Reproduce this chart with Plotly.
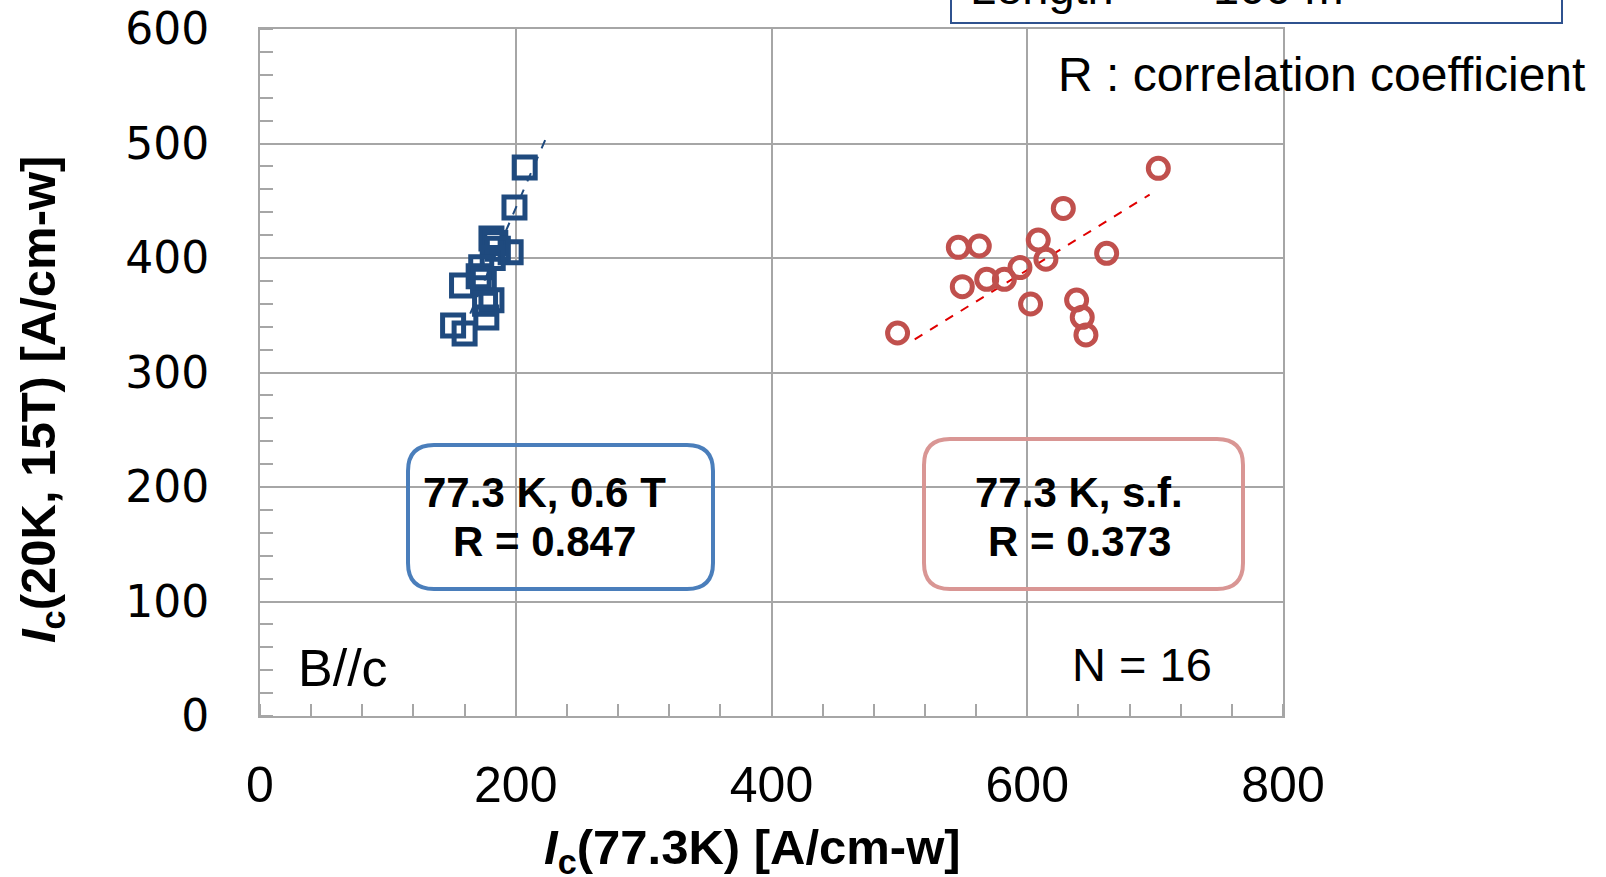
import plotly.graph_objects as go

# Ic at 77.3 K, 0.6 T (B//c) vs Ic at 20 K, 15 T
ic77_06T = [207, 199, 196, 181, 184, 186, 182, 173, 171, 175, 158, 181, 176, 177, 151, 160]
ic20_06T = [479, 444, 405, 417, 413, 408, 400, 392, 384, 381, 376, 363, 360, 348, 341, 334]

# Ic at 77.3 K self-field vs Ic at 20 K, 15 T
ic77_sf = [702.5, 628.2, 608.6, 546.1, 562.5, 662.1, 614.6, 594.3, 582.1, 568.3, 549.2, 602.6, 638.6, 643.0, 645.9, 498.6]
ic20_sf = [478.3, 443.3, 415.7, 409.3, 410.5, 404.1, 398.9, 391.6, 381.4, 381.4, 375.0, 359.8, 363.3, 348.2, 332.8, 334.5]

# linear trend lines (end points)
trend_06T_x = [158.8, 224.4]
trend_06T_y = [337.0, 506.6]
trend_sf_x = [512.0, 695.7]
trend_sf_y = [329.0, 455.3]

x_ticks = [0, 200, 400, 600, 800]
y_ticks = [0, 100, 200, 300, 400, 500, 600]

BLUE = "#1F4A7E"
RED = "#C0504D"
GRID = "#A6A6A6"

# plot area in pixels
L, R, T, B = 260, 1283, 29, 716
W, H = 1606, 877


def fx(p):
    return (p - L) / (R - L)


def fy(p):
    return (B - p) / (B - T)


fig = go.Figure()

fig.add_trace(go.Scatter(x=trend_06T_x, y=trend_06T_y, mode="lines",
                         line=dict(color=BLUE, width=2, dash="dash"), hoverinfo="skip"))
fig.add_trace(go.Scatter(x=trend_sf_x, y=trend_sf_y, mode="lines",
                         line=dict(color="#E00000", width=2, dash="dash"), hoverinfo="skip"))

fig.add_trace(go.Scatter(x=ic77_06T, y=ic20_06T, mode="markers",
                         marker=dict(symbol="square-open", size=21, color=BLUE,
                                     line=dict(color=BLUE, width=5))))
fig.add_trace(go.Scatter(x=ic77_sf, y=ic20_sf, mode="markers",
                         marker=dict(symbol="circle-open", size=20, color=RED,
                                     line=dict(color=RED, width=5))))

axis_common = dict(
    showgrid=True, gridcolor=GRID, gridwidth=2,
    showline=True, linecolor=GRID, linewidth=2, mirror=True,
    zeroline=False, ticks="", automargin=False,
)

fig.update_xaxes(
    range=[0, 800], tickvals=x_ticks, ticktext=[str(v) for v in x_ticks],
    tickfont=dict(family="Liberation Sans", size=50, color="black"),
    ticklabelstandoff=24,
    minor=dict(dtick=40, tick0=0, ticks="inside", ticklen=12, tickwidth=2,
               tickcolor=GRID, showgrid=False),
    **axis_common,
)
fig.update_yaxes(
    range=[0, 600], tickvals=y_ticks, ticktext=[str(v) for v in y_ticks],
    tickfont=dict(family="DejaVu Sans", size=44, color="black"),
    ticklabelstandoff=40,
    minor=dict(dtick=20, tick0=0, ticks="inside", ticklen=13, tickwidth=2,
               tickcolor=GRID, showgrid=False),
    **axis_common,
)

# white text backgrounds hiding the grid behind the labels
shapes = [
    dict(type="rect", xref="paper", yref="paper", layer="between",
         x0=fx(377), x1=fx(712), y0=fy(565), y1=fy(460),
         fillcolor="white", line=dict(width=0)),
    dict(type="rect", xref="paper", yref="paper", layer="between",
         x0=fx(939), x1=fx(1222), y0=fy(565), y1=fy(460),
         fillcolor="white", line=dict(width=0)),
]

fig.update_layout(
    width=W, height=H,
    margin=dict(l=L, r=W - R, t=T, b=H - B, autoexpand=False),
    paper_bgcolor="white", plot_bgcolor="white",
    showlegend=False,
    shapes=shapes,
)


def frame(x0, y0, x1, y1, color, r=26):
    path = (f"M {fx(x0 + r)},{fy(y0)} L {fx(x1 - r)},{fy(y0)} "
            f"Q {fx(x1)},{fy(y0)} {fx(x1)},{fy(y0 + r)} "
            f"L {fx(x1)},{fy(y1 - r)} Q {fx(x1)},{fy(y1)} {fx(x1 - r)},{fy(y1)} "
            f"L {fx(x0 + r)},{fy(y1)} Q {fx(x0)},{fy(y1)} {fx(x0)},{fy(y1 - r)} "
            f"L {fx(x0)},{fy(y0 + r)} Q {fx(x0)},{fy(y0)} {fx(x0 + r)},{fy(y0)} Z")
    fig.add_shape(type="path", path=path, xref="paper", yref="paper",
                  line=dict(color=color, width=4), fillcolor="rgba(0,0,0,0)", layer="above")


frame(408, 445, 713, 589, "#4A7EBB")
frame(924, 439, 1243, 589, "#D99694")

# partially visible note box at top right
fig.add_shape(type="rect", xref="paper", yref="paper",
              x0=fx(951), x1=fx(1562), y0=fy(23), y1=fy(-60),
              line=dict(color="#2F528F", width=2), fillcolor="white", layer="above")


def text(x, y, s, size, xanchor="center", bold=False, family="Liberation Sans", angle=0):
    fig.add_annotation(xref="paper", yref="paper", x=fx(x), y=fy(y),
                       xanchor=xanchor, yanchor="middle", textangle=angle,
                       text=f"<b>{s}</b>" if bold else s, showarrow=False,
                       font=dict(family=family, size=size, color="black"))


text(544, 492, "77.3 K, 0.6 T", 42, bold=True)
text(544, 541, "R = 0.847", 42, bold=True)
text(1079, 492, "77.3 K, s.f.", 42, bold=True)
text(1079, 541, "R = 0.373", 42, bold=True)

text(296, 668, "B//c", 52, xanchor="left")
text(1214, 664, "N = 16", 47, xanchor="right")
text(1056, 74, "R : correlation coefficient", 48, xanchor="left")
fig.add_annotation(xref="paper", yref="paper", x=fx(968), y=fy(16),
                   xanchor="left", yanchor="bottom", text="Length  ～  100 m",
                   showarrow=False, font=dict(family="Liberation Sans", size=47, color="black"))

# axis titles
text(752, 850, "<i>I</i><sub>c</sub>(77.3K) [A/cm-w]", 49, bold=True)
text(41, 400, "<i>I</i><sub>c</sub>(20K, 15T) [A/cm-w]", 49, bold=True, angle=-90)

fig.write_html("out.html")
